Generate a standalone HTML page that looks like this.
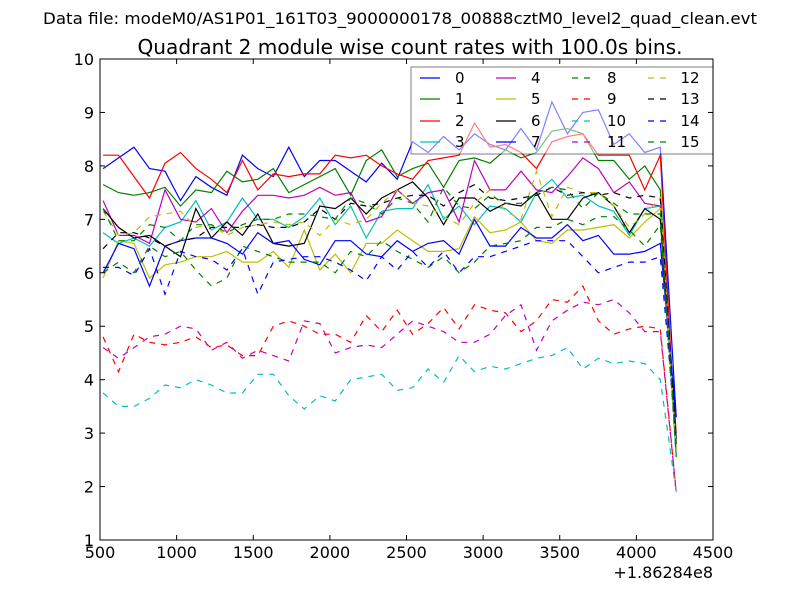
<!DOCTYPE html>
<html><head><meta charset="utf-8"><style>
body{margin:0;background:#fff;}
svg{display:block;font-family:"DejaVu Sans","Liberation Sans",sans-serif;}
</style></head><body>
<svg id="s" width="800" height="600" xmlns="http://www.w3.org/2000/svg">
<rect width="800" height="600" fill="#fff"/>
<text x="400" y="24" font-size="16" text-anchor="middle" textLength="714" lengthAdjust="spacingAndGlyphs">Data file: modeM0/AS1P01_161T03_9000000178_00888cztM0_level2_quad_clean.evt</text>
<text x="410" y="54" font-size="20" text-anchor="middle" textLength="545" lengthAdjust="spacingAndGlyphs">Quadrant 2 module wise count rates with 100.0s bins.</text>
<g id="plot"></g>
<g id="axes"></g>
</svg>
<script>
const X=d=>100+(d-500)*0.15325, Y=v=>540-(v-1)*53.444;
const S=[
["b",0,[7.95,8.15,8.35,7.95,7.9,7.35,7.8,7.6,7.45,8.2,7.95,7.8,8.35,7.8,8.1,8.1,7.9,7.7,8.05,7.75,8.45,8.25,8.55,8.3,8.6,8.4,8.3,8.7,8.3,9.2,8.6,9.0,9.05,8.4,8.6,8.25,8.35,3.3]],
["g",0,[7.65,7.5,7.45,7.5,7.6,7.25,7.55,7.5,7.9,7.7,7.75,7.95,7.5,7.65,7.8,7.95,7.45,8.1,8.3,7.8,7.95,8.05,7.6,8.1,8.15,8.05,8.3,8.15,8.25,8.65,8.7,8.6,8.1,8.1,7.75,8.0,7.55,2.55]],
["r",0,[8.2,8.2,7.8,7.4,8.05,8.25,7.95,7.75,7.5,8.1,7.55,7.85,7.8,7.85,7.85,8.2,8.15,8.2,8.0,7.85,7.75,8.1,8.15,8.2,8.8,8.35,8.4,8.25,7.95,8.45,8.55,8.6,8.2,8.2,8.2,7.55,8.2,2.6]],
["c",0,[6.75,6.55,6.65,6.5,6.85,6.95,7.35,6.8,6.95,7.4,7.0,7.0,6.85,7.05,7.4,6.9,7.25,6.65,7.15,7.2,7.2,7.65,7.0,7.25,6.9,7.25,7.2,6.95,7.5,7.75,7.4,7.45,7.25,7.15,6.7,7.2,7.25,2.6]],
["m",0,[7.35,6.7,6.7,6.55,7.55,7.0,6.95,7.2,6.75,7.15,7.45,7.45,7.4,7.45,7.6,7.45,7.5,6.95,7.05,7.55,7.3,7.5,7.55,6.95,8.1,7.55,7.55,7.9,7.55,7.5,7.8,8.15,7.95,7.5,7.7,7.3,7.25,3.0]],
["y",0,[5.9,6.6,6.55,5.9,6.15,6.2,6.3,6.3,6.4,6.2,6.2,6.4,6.1,6.8,6.05,6.35,6.0,6.55,6.55,6.8,6.6,6.4,6.4,6.45,7.05,6.75,6.8,6.95,6.6,6.55,6.8,6.8,6.85,6.9,6.65,6.95,7.2,2.7]],
["k",0,[7.2,6.85,6.65,6.7,6.5,6.3,7.2,6.65,6.95,6.7,7.1,6.55,6.5,6.55,7.25,7.2,7.4,7.1,7.4,7.55,7.7,7.4,6.9,7.4,7.4,7.15,7.3,7.25,7.5,7.0,7.0,7.4,7.5,7.25,6.75,7.2,7.0,2.9]],
["b",0,[6.0,6.55,6.45,5.75,6.5,6.6,6.65,6.65,6.55,6.35,6.75,6.55,6.6,6.25,6.15,6.6,6.6,6.35,6.3,6.6,6.4,6.55,6.6,6.35,7.0,6.5,6.5,6.85,6.65,6.65,6.9,6.6,6.7,6.35,6.35,6.4,6.55,3.3]],
["g",1,[6.0,6.2,6.0,6.5,6.3,6.4,6.05,5.75,5.9,6.5,6.4,6.3,6.2,6.2,6.2,6.0,6.4,6.3,6.6,6.4,6.25,6.1,6.3,6.0,6.2,6.5,6.55,6.6,6.85,6.85,7.0,6.9,7.05,7.05,6.8,6.5,6.9,2.6]],
["r",1,[4.8,4.15,4.85,4.7,4.65,4.7,4.8,4.6,4.65,4.45,4.45,5.0,5.1,5.0,4.85,4.85,4.7,5.2,4.9,5.3,4.85,5.05,5.35,4.95,5.4,5.3,5.25,4.9,5.1,5.5,5.45,5.75,5.1,4.85,4.95,5.0,4.95,1.9]],
["c",1,[3.75,3.5,3.5,3.65,3.9,3.85,4.0,3.9,3.75,3.75,4.1,4.1,3.7,3.45,3.7,3.6,4.0,4.05,4.1,3.8,3.85,4.2,3.95,4.45,4.15,4.25,4.2,4.3,4.4,4.45,4.6,4.2,4.4,4.3,4.35,4.3,4.0,1.9]],
["m",1,[4.6,4.4,4.6,4.8,4.85,5.0,4.95,4.55,4.7,4.4,4.55,4.45,4.35,5.1,5.05,4.5,4.6,4.65,4.6,4.85,5.1,5.0,4.9,4.7,4.7,4.85,5.2,5.4,4.55,5.1,5.3,5.45,5.4,5.5,5.25,4.9,4.9,1.9]],
["y",1,[7.15,6.7,6.75,7.05,7.1,7.15,6.85,6.9,6.7,6.85,6.9,6.95,6.9,6.95,6.7,7.0,6.9,7.0,7.3,7.55,7.3,7.25,7.05,6.9,7.3,7.55,7.15,7.0,7.9,7.05,7.6,7.5,7.5,7.25,6.85,7.1,7.4,2.7]],
["k",1,[6.45,6.75,6.75,6.65,6.5,6.6,6.65,6.85,6.85,6.85,6.9,6.85,6.85,6.95,7.2,7.0,7.3,7.25,7.3,7.4,7.45,7.45,7.25,7.5,7.65,7.4,7.35,7.4,7.45,7.6,7.45,7.5,7.45,7.5,7.4,7.45,7.4,2.8]],
["b",1,[6.1,6.1,5.95,6.45,5.6,6.4,6.3,6.25,6.05,6.45,5.6,6.2,6.25,6.3,6.3,6.2,6.05,5.85,6.3,6.05,6.4,6.1,6.4,6.0,6.3,6.3,6.4,6.5,6.6,6.6,6.6,6.3,6.0,6.1,6.2,6.2,6.3,2.9]],
["g",1,[7.2,6.6,6.6,6.9,6.85,6.6,6.9,6.9,6.75,6.9,7.0,7.0,7.1,7.1,7.05,7.0,7.4,7.3,7.1,7.4,7.3,6.95,7.6,7.25,7.2,7.45,7.3,7.3,7.5,7.6,7.55,7.2,7.5,7.3,7.1,7.1,7.1,2.7]]];
const C={b:"#0000ff",g:"#008000",r:"#ff0000",c:"#00bfbf",m:"#bf00bf",y:"#bfbf00",k:"#000000"};
let h='<defs><clipPath id="cp"><rect x="100" y="59" width="613" height="481"/></clipPath></defs><g clip-path="url(#cp)">';
S.forEach(s=>{const pts=s[2].map((v,i)=>{const d=i<37?520+i*101:4260;return X(d).toFixed(1)+','+Y(v).toFixed(1)}).join(' ');
h+=`<polyline points="${pts}" fill="none" stroke="${C[s[0]]}" stroke-width="1.2"${s[1]?' stroke-dasharray="6,6"':''}/>`;});
h+='</g>';
h+='<rect x="411" y="67" width="302" height="87" fill="#fff" fill-opacity="0.5" stroke="#000" stroke-opacity="0.5" stroke-width="1"/>';
const cx=[420,496,572,648], tx=[455,531,607,690], ry=[78,99,121,142];
S.forEach((s,i)=>{const c=Math.floor(i/4),r=i%4;
h+=`<line x1="${cx[c]}" x2="${cx[c]+20}" y1="${ry[r]}" y2="${ry[r]}" stroke="${C[s[0]]}" stroke-width="1.2"${s[1]?' stroke-dasharray="6,6"':''}/>`;
h+=`<text x="${tx[c]}" y="${ry[r]+5}" font-size="15" text-anchor="${c==3?'middle':'start'}">${i}</text>`;});
document.getElementById('plot').innerHTML=h;
let a='<rect x="100" y="59" width="613" height="481" fill="none" stroke="#000" stroke-width="1"/>';
for(let v=1;v<=10;v++){const y=Y(v);a+=`<line x1="100" x2="105" y1="${y}" y2="${y}" stroke="#000"/><line x1="708" x2="713" y1="${y}" y2="${y}" stroke="#000"/><text x="94" y="${y+6}" font-size="16" text-anchor="end">${v}</text>`;}
for(let d=500;d<=4500;d+=500){const x=X(d);a+=`<line x1="${x}" x2="${x}" y1="540" y2="535" stroke="#000"/><line x1="${x}" x2="${x}" y1="59" y2="64" stroke="#000"/><text x="${x}" y="558" font-size="16" text-anchor="middle">${d}</text>`;}
a+='<text x="713" y="578" font-size="16" text-anchor="end">+1.86284e8</text>';
document.getElementById('axes').innerHTML=a;
</script>
</body></html>
